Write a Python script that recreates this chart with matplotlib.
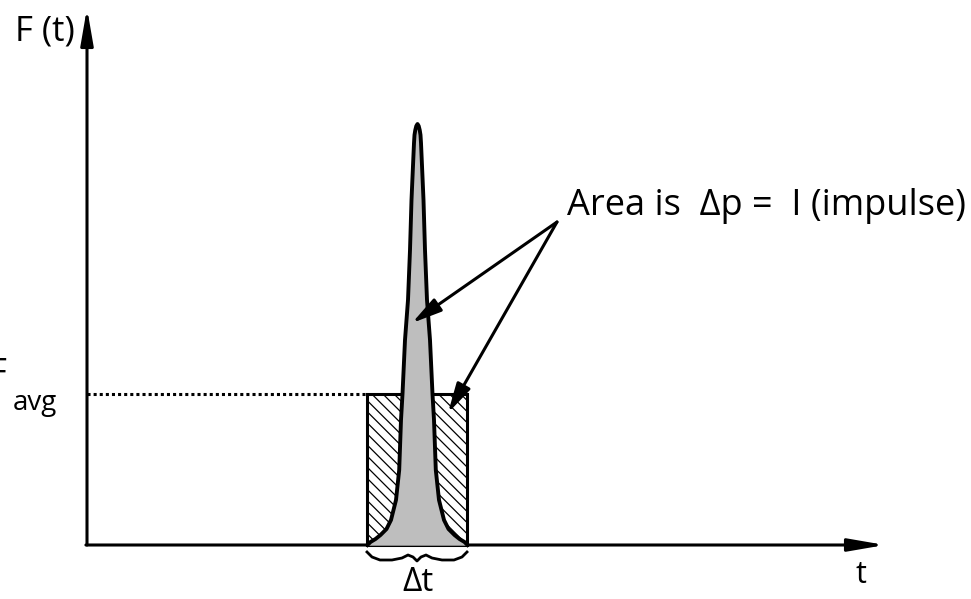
import numpy as np
import matplotlib
matplotlib.use("Agg")
import matplotlib.pyplot as plt
from matplotlib.patches import Rectangle

plt.rcParams['font.family'] = ['Open Sans', 'DejaVu Sans']
plt.rcParams['hatch.linewidth'] = 0.9

# time axis units: rect spans t0..t0+dt, heights in the same units
t_axis_end = 7.98
f_axis_end = 5.37
t_start = 2.80
dt = 1.00
f_avg = 1.51
t_peak = 3.305

# pulse outline (height, half width), base -> tip
pulse_h = [0.00, 0.01, 0.03, 0.06, 0.10, 0.16, 0.25, 0.45, 0.75, 1.25, 1.51,
           2.05, 2.45, 2.95, 3.45, 3.68, 4.02, 4.10, 4.15, 4.19, 4.21]
pulse_hw = [0.50, 0.49, 0.47, 0.42, 0.37, 0.31, 0.265, 0.215, 0.183, 0.165, 0.15,
            0.125, 0.095, 0.075, 0.06, 0.05, 0.035, 0.03, 0.022, 0.012, 0.0]

# wavy brace under the rectangle
brace_t = [2.80, 2.85, 2.93, 3.05, 3.15, 3.21, 3.26, 3.30, 3.34, 3.39, 3.45, 3.55, 3.67, 3.75, 3.80]
brace_f = [-0.07, -0.12, -0.15, -0.15, -0.13, -0.10, -0.12, -0.16, -0.12, -0.10, -0.13, -0.15, -0.15, -0.12, -0.07]

label_src = (4.70, 3.23)
arrow_tips = [(3.25, 2.22), (3.61, 1.32)]

fig = plt.figure(figsize=(9.71, 5.99), dpi=100)
ax = fig.add_axes([0, 0, 1, 1])
ax.set_xlim(-0.87, 8.84)
ax.set_ylim(-0.54, 5.45)
ax.axis('off')

lw = 2.2

# axes with arrow heads
ax.annotate('', xy=(0, f_axis_end), xytext=(0, 0),
            arrowprops=dict(arrowstyle='-|>,head_length=2.2,head_width=0.38',
                            lw=lw, color='black', shrinkA=0, shrinkB=0))
ax.annotate('', xy=(t_axis_end, 0), xytext=(-0.011, 0),
            arrowprops=dict(arrowstyle='-|>,head_length=2.2,head_width=0.38',
                            lw=lw, color='black', shrinkA=0, shrinkB=0))

# F_avg dotted line
ax.plot([0, t_start], [f_avg, f_avg], color='black', lw=lw, ls=(0, (1, 1)))

# hatched average rectangle
ax.add_patch(Rectangle((t_start, 0), dt, f_avg, facecolor='white',
                       edgecolor='black', hatch='\\\\\\', lw=lw, zorder=2))

# pulse
h = np.array(pulse_h)
hw = np.array(pulse_hw)
px = np.concatenate([t_peak - hw, (t_peak + hw)[::-1]])
py = np.concatenate([h, h[::-1]])
ax.fill(px, py, color='#bebebe', zorder=3)
ax.plot(px, py, color='black', lw=2.8, zorder=4, solid_joinstyle='round')

# brace
ax.plot(brace_t, brace_f, color='black', lw=2.0)

# arrows from label
for tip in arrow_tips:
    ax.annotate('', xy=tip, xytext=label_src,
                arrowprops=dict(arrowstyle='-|>,head_length=1.8,head_width=0.45',
                                lw=2.2, color='black', shrinkA=0, shrinkB=0),
                zorder=5)

# texts
ax.text(4.80, 3.30, 'Area is  \u0394p =  I (impulse)', fontsize=26, va='baseline', ha='left')
ax.text(-0.72, 5.05, 'F (t)', fontsize=25, va='baseline', ha='left')
ax.text(-0.81, 1.62, 'F', fontsize=25, va='baseline', ha='right')
ax.text(-0.74, 1.35, 'avg', fontsize=20, va='baseline', ha='left')
ax.text(t_peak, -0.46, '\u0394t', fontsize=24, va='baseline', ha='center')
ax.text(7.74, -0.38, 't', fontsize=22, va='baseline', ha='center')

fig.savefig('out.png', dpi=100)
